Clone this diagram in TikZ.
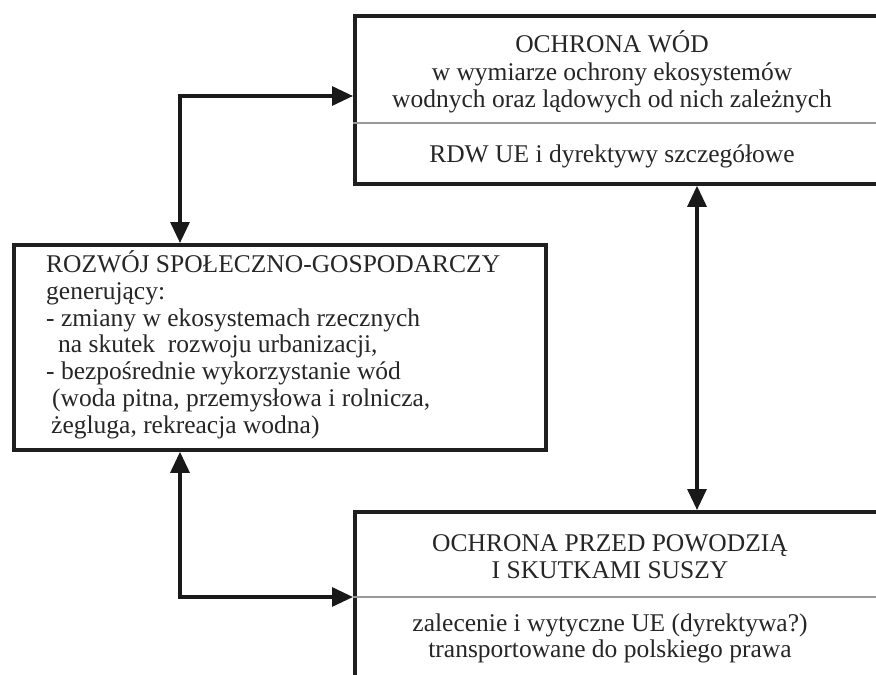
\documentclass[tikz,border=0pt]{standalone}
\usepackage{fontspec}
\setmainfont{Liberation Serif}
\usetikzlibrary{arrows.meta}
\begin{document}
\begin{tikzpicture}[x=1pt,y=-1pt,
  box/.style={draw=black!88, line width=3.8pt, rectangle, inner sep=0pt, anchor=north west},
  divider/.style={draw=black!40, line width=1.4pt},
  link/.style={line width=3.2pt, draw=black!90, {Triangle[length=21pt,width=19pt]}-{Triangle[length=21pt,width=19pt]}},
  txt/.style={anchor=base, inner sep=0pt, text=black!85, font=\fontsize{25.5}{30}\selectfont},
  ltxt/.style={txt, anchor=base west}]
\useasboundingbox (0,0) rectangle (876,675);
% boxes
\node[box, minimum width=527pt, minimum height=168pt] (T) at (353,14) {};
\node[box, minimum width=532pt, minimum height=205pt] (L) at (12,243) {};
\node[box, minimum width=527pt, minimum height=180pt] (B) at (353,510) {};
% dividers
\coordinate (d1) at (0,123);
\coordinate (d2) at (0,597);
\draw[divider] (T.west |- d1) -- (T.east |- d1);
\draw[divider] (B.west |- d2) -- (B.east |- d2);
% top box text
\node[txt] (t1) at (612,52) {OCHRONA WÓD};
\node[txt] (t2) at (612,80) {w wymiarze ochrony ekosystemów};
\node[txt] (t3) at (612,107) {wodnych oraz lądowych od nich zależnych};
\node[txt] (t4) at (612,162) {RDW UE i dyrektywy szczegółowe};
% left box text
\node[ltxt] (l1) at (46,272) {ROZWÓJ SPOŁECZNO-GOSPODARCZY};
\node[ltxt] (l2) at (46,299) {generujący:};
\node[ltxt] (l3) at (46,326) {- zmiany w ekosystemach rzecznych};
\node[ltxt] (l4) at (58,352) {na skutek\ \ rozwoju urbanizacji,};
\node[ltxt] (l5) at (46,379) {- bezpośrednie wykorzystanie wód};
\node[ltxt] (l6) at (52,406) {(woda pitna, przemysłowa i rolnicza,};
\node[ltxt] (l7) at (51,433) {żegluga, rekreacja wodna)};
% bottom box text
\node[txt] (b1) at (610,551) {OCHRONA PRZED POWODZIĄ};
\node[txt] (b2) at (610,578) {I SKUTKAMI SUSZY};
\node[txt] (b3) at (610,631) {zalecenie i wytyczne UE (dyrektywa?)};
\node[txt] (b4) at (610,657) {transportowane do polskiego prawa};
% connectors
\coordinate (c1) at (180,96);
\coordinate (c2) at (180,597);
\coordinate (c3) at (697,0);
\draw[link] (L.north -| c1) |- (T.west |- c1);
\draw[link] (L.south -| c2) |- (B.west |- c2);
\draw[link] (T.south -| c3) -- (B.north -| c3);
\end{tikzpicture}
\end{document}
